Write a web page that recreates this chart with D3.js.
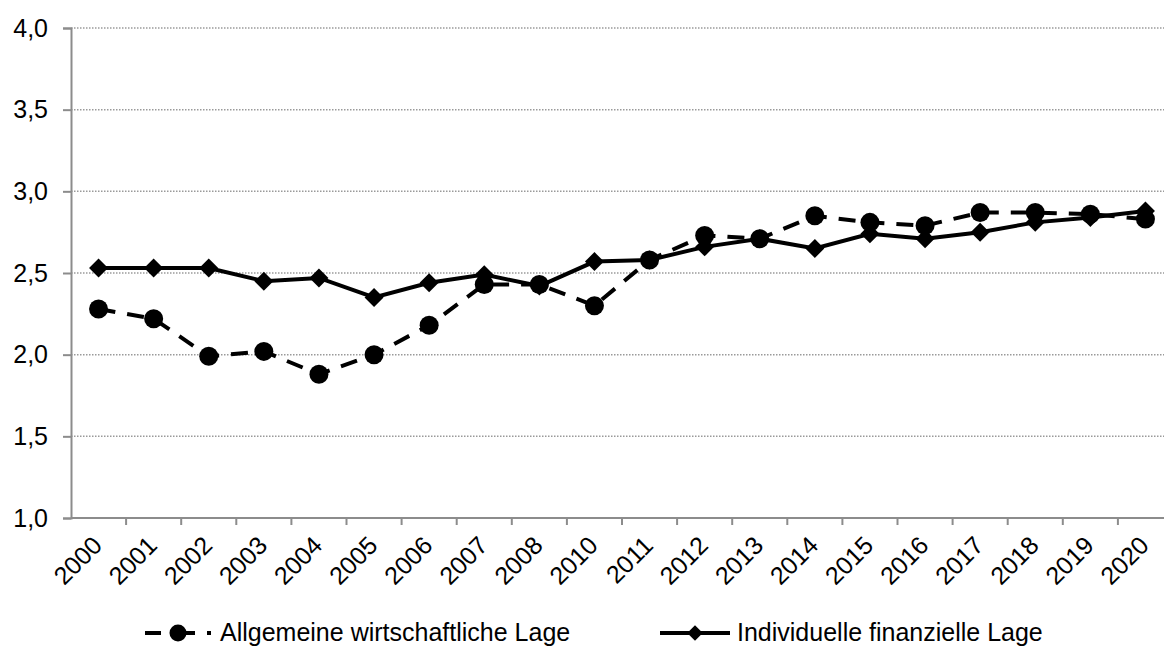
<!DOCTYPE html>
<html>
<head>
<meta charset="utf-8">
<script src="https://cdn.jsdelivr.net/npm/d3@7"></script>
<style>
  body { margin: 0; background: #fff; overflow: hidden; }
  text { font-family: "Liberation Sans", Arial, sans-serif; fill: #000; }
</style>
</head>
<body>
<div class="container"></div>
<script>
let years = ['2000', '2001', '2002', '2003', '2004', '2005', '2006', '2007', '2008', '2010',
    '2011', '2012', '2013', '2014', '2015', '2016', '2017', '2018', '2019', '2020']
let allgemeine = [2.28, 2.22, 1.99, 2.02, 1.88, 2.00, 2.18, 2.43, 2.43, 2.30,
    2.58, 2.73, 2.71, 2.85, 2.81, 2.79, 2.87, 2.87, 2.86, 2.83]
let individuelle = [2.53, 2.53, 2.53, 2.45, 2.47, 2.35, 2.44, 2.49, 2.42, 2.57,
    2.58, 2.66, 2.71, 2.65, 2.74, 2.71, 2.75, 2.81, 2.84, 2.88]
let yTicks = [1.0, 1.5, 2.0, 2.5, 3.0, 3.5, 4.0]
let seriesNames = ['Allgemeine wirtschaftliche Lage', 'Individuelle finanzielle Lage']

let width = 1164
let height = 648
// the plot runs a little past the right edge of the picture, as in the original
let margin = { top: 28, left: 71, right: -9, bottom: 130 }
let fontSize = 25

let svg = d3.select('.container')
    .append('svg')
    .attr('width', width)
    .attr('height', height)
    .style('display', 'block')

let xScale = d3.scaleBand()
    .domain(years)
    .range([margin.left, width - margin.right])

let yScale = d3.scaleLinear()
    .domain([1, 4])
    .range([height - margin.bottom, margin.top])

let x = (d, i) => xScale(years[i]) + xScale.bandwidth() / 2

// gridlines
svg.append('g')
    .selectAll('line')
    .data(yTicks.slice(1))
    .enter()
    .append('line')
    .attr('x1', margin.left)
    .attr('x2', width)
    .attr('y1', d => yScale(d))
    .attr('y2', d => yScale(d))
    .attr('stroke', '#9a9a9a')
    .attr('stroke-width', 1.5)
    .attr('stroke-dasharray', '1.5,1.5')

// y axis
let yAxis = d3.axisLeft(yScale)
    .tickValues(yTicks)
    .tickSize(8)
    .tickPadding(15)
    .tickFormat(d => d3.format('.1f')(d).replace('.', ','))

let gy = svg.append('g')
    .attr('transform', `translate(${margin.left},0)`)
    .call(yAxis)
gy.select('.domain').attr('stroke', '#8c8c8c').attr('stroke-width', 2)
gy.selectAll('.tick line').attr('stroke', '#8c8c8c').attr('stroke-width', 2)
gy.selectAll('text').style('font-size', fontSize + 'px')

// x axis with ticks between categories
let baseY = yScale(1)
svg.append('line')
    .attr('x1', margin.left)
    .attr('x2', width)
    .attr('y1', baseY)
    .attr('y2', baseY)
    .attr('stroke', '#8c8c8c')
    .attr('stroke-width', 2)

svg.append('g')
    .selectAll('line')
    .data(years)
    .enter()
    .append('line')
    .attr('x1', d => xScale(d) + xScale.bandwidth())
    .attr('x2', d => xScale(d) + xScale.bandwidth())
    .attr('y1', baseY)
    .attr('y2', baseY + 7)
    .attr('stroke', '#8c8c8c')
    .attr('stroke-width', 2)

svg.append('g')
    .selectAll('text')
    .data(years)
    .enter()
    .append('text')
    .attr('transform', d => `translate(${xScale(d) + xScale.bandwidth() / 2 + 5},${baseY + 29}) rotate(-45)`)
    .attr('text-anchor', 'end')
    .style('font-size', fontSize + 'px')
    .text(d => d)

// lines
let line = d3.line()
    .x(x)
    .y(d => yScale(d))

svg.append('path')
    .datum(allgemeine)
    .attr('d', line)
    .attr('fill', 'none')
    .attr('stroke', '#000')
    .attr('stroke-width', 4)
    .attr('stroke-dasharray', '17,12')

svg.append('path')
    .datum(individuelle)
    .attr('d', line)
    .attr('fill', 'none')
    .attr('stroke', '#000')
    .attr('stroke-width', 4)

let diamond = d3.symbol().type(d3.symbolSquare).size(180)

svg.append('g')
    .selectAll('path')
    .data(individuelle)
    .enter()
    .append('path')
    .attr('d', diamond)
    .attr('transform', (d, i) => `translate(${x(d, i)},${yScale(d)}) rotate(45)`)
    .attr('fill', '#000')

svg.append('g')
    .selectAll('circle')
    .data(allgemeine)
    .enter()
    .append('circle')
    .attr('cx', x)
    .attr('cy', d => yScale(d))
    .attr('r', 9.5)
    .attr('fill', '#000')

// legend
let legY = 633
let textY = 641
let leg1 = svg.append('g')
leg1.append('line')
    .attr('x1', 145).attr('x2', 216)
    .attr('y1', legY).attr('y2', legY)
    .attr('stroke', '#000')
    .attr('stroke-width', 4)
    .attr('stroke-dasharray', '16,12,22,12,4')
leg1.append('circle')
    .attr('cx', 178).attr('cy', legY).attr('r', 8.5)
leg1.append('text')
    .attr('x', 220).attr('y', textY)
    .style('font-size', fontSize + 'px')
    .text(seriesNames[0])

let leg2 = svg.append('g')
leg2.append('line')
    .attr('x1', 660).attr('x2', 730)
    .attr('y1', legY).attr('y2', legY)
    .attr('stroke', '#000')
    .attr('stroke-width', 4)
leg2.append('path')
    .attr('d', d3.symbol().type(d3.symbolSquare).size(120))
    .attr('transform', `translate(695,${legY}) rotate(45)`)
leg2.append('text')
    .attr('x', 737).attr('y', textY)
    .style('font-size', fontSize + 'px')
    .text(seriesNames[1])
</script>
</body>
</html>
